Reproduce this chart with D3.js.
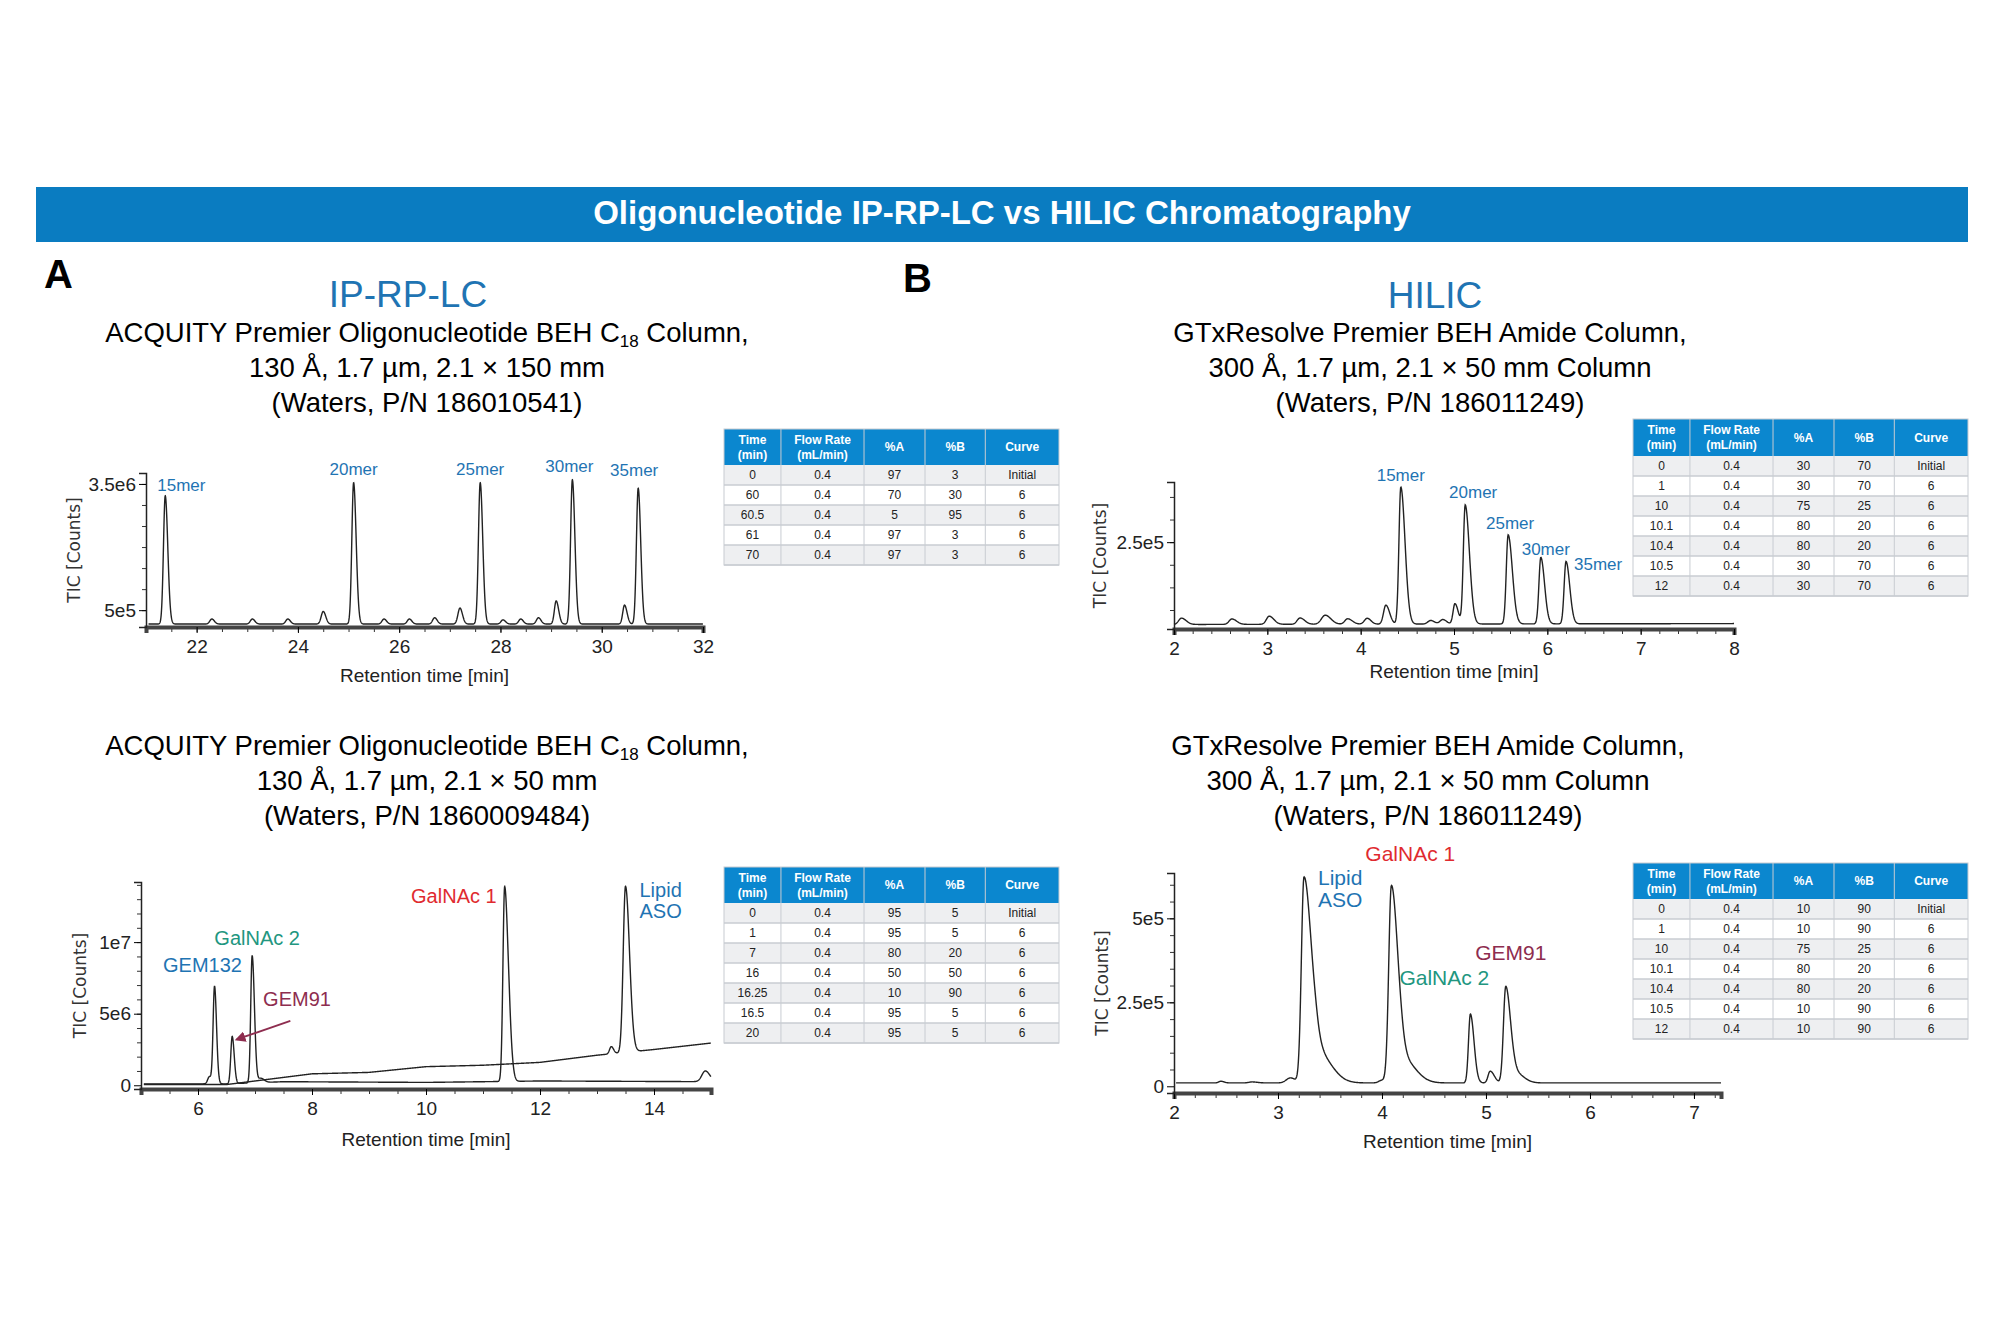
<!DOCTYPE html>
<html><head><meta charset="utf-8">
<script src="https://cdn.jsdelivr.net/npm/d3@7"></script>
<style>body{margin:0;background:#fff}svg{display:block}</style>
</head><body>
<svg id="c" width="2000" height="1333"></svg>
<script>
// ---------- data ----------
const tableHeader = ["Time\n(min)", "Flow Rate\n(mL/min)", "%A", "%B", "Curve"];
const tableA1 = [["0","0.4","97","3","Initial"],["60","0.4","70","30","6"],["60.5","0.4","5","95","6"],["61","0.4","97","3","6"],["70","0.4","97","3","6"]];
const tableB1 = [["0","0.4","30","70","Initial"],["1","0.4","30","70","6"],["10","0.4","75","25","6"],["10.1","0.4","80","20","6"],["10.4","0.4","80","20","6"],["10.5","0.4","30","70","6"],["12","0.4","30","70","6"]];
const tableA2 = [["0","0.4","95","5","Initial"],["1","0.4","95","5","6"],["7","0.4","80","20","6"],["16","0.4","50","50","6"],["16.25","0.4","10","90","6"],["16.5","0.4","95","5","6"],["20","0.4","95","5","6"]];
const tableB2 = [["0","0.4","10","90","Initial"],["1","0.4","10","90","6"],["10","0.4","75","25","6"],["10.1","0.4","80","20","6"],["10.4","0.4","80","20","6"],["10.5","0.4","10","90","6"],["12","0.4","10","90","6"]];

// peaks: [retention time, height, sigma left, sigma right]
const peaksA1 = [[21.38,3.05e6,0.035,0.05],[22.3,0.12e6,0.04,0.05],[23.1,0.12e6,0.04,0.05],[23.8,0.12e6,0.04,0.05],[24.5,0.3e6,0.04,0.05],[25.1,3.36e6,0.035,0.05],[25.7,0.12e6,0.04,0.05],[26.2,0.12e6,0.04,0.05],[26.7,0.15e6,0.04,0.05],[27.2,0.38e6,0.04,0.05],[27.6,3.36e6,0.035,0.05],[28.05,0.1e6,0.04,0.05],[28.4,0.12e6,0.04,0.05],[28.75,0.15e6,0.04,0.05],[29.1,0.55e6,0.035,0.05],[29.42,3.43e6,0.035,0.05],[30.45,0.45e6,0.035,0.05],[30.72,3.23e6,0.035,0.05]];
const baseA1 = [[21,0.17e6],[32,0.17e6]];
const peaksB1 = [[2.08,0.14e5,0.03,0.05],[2.62,0.12e5,0.03,0.05],[3.02,0.18e5,0.03,0.05],[3.35,0.14e5,0.03,0.05],[3.62,0.2e5,0.04,0.06],[3.86,0.12e5,0.03,0.05],[4.07,0.13e5,0.03,0.04],[4.27,0.42e5,0.025,0.04],[4.43,3.03e5,0.02,0.045],[4.75,0.08e5,0.03,0.04],[4.88,0.1e5,0.03,0.04],[5.01,0.45e5,0.02,0.035],[5.12,2.63e5,0.02,0.045],[5.58,1.97e5,0.02,0.045],[5.93,1.47e5,0.02,0.04],[6.2,1.38e5,0.02,0.04]];
const baseB1 = [[2,0.68e5],[8,0.7e5]];
const peaksA2a = [[6.2,0.5e6,0.03,0.04],[6.29,6.8e6,0.025,0.035],[6.6,3.3e6,0.025,0.035],[6.95,8.9e6,0.025,0.04],[7.1,0.3e6,0.04,0.06],[11.38,13.6e6,0.03,0.06],[11.47,1.2e6,0.03,0.05],[14.9,0.75e6,0.06,0.08]];
const baseA2a = [[5,0.1e6],[6.5,0.1e6],[7.5,0.25e6],[10,0.2e6],[12,0.3e6],[15,0.25e6]];
const peaksA2b = [[13.25,0.5e6,0.03,0.04],[13.5,11.6e6,0.04,0.07]];
const baseA2b = [[5,0.05e6],[6.5,0.05e6],[7,0.3e6],[8,0.8e6],[9,0.9e6],[10,1.3e6],[11,1.4e6],[12,1.6e6],[13,2.1e6],[14,2.5e6],[15,2.95e6]];
const peaksB2 = [[2.45,0.05e5,0.02,0.03],[2.75,0.03e5,0.03,0.05],[3.12,0.15e5,0.04,0.05],[3.25,6.1e5,0.025,0.07],[3.38,0.9e5,0.05,0.13],[4.0,0.08e5,0.03,0.05],[4.09,5.8e5,0.025,0.06],[4.2,0.7e5,0.05,0.12],[4.85,2.05e5,0.018,0.035],[5.04,0.35e5,0.02,0.04],[5.19,2.85e5,0.022,0.045],[5.28,0.3e5,0.04,0.08]];
const baseB2 = [[2,0.1e5],[7.3,0.1e5]];

const titleText = "Oligonucleotide IP-RP-LC vs HILIC Chromatography";
const xTicksA1 = [22,24,26,28,30,32], yTicksA1 = [5e5,3.5e6], yTickLabA1 = ["5e5","3.5e6"];
const xTicksB1 = [2,3,4,5,6,7,8], yTicksB1 = [2.5e5], yTickLabB1 = ["2.5e5"];
const xTicksA2 = [6,8,10,12,14], yTicksA2 = [0,5e6,1e7], yTickLabA2 = ["0","5e6","1e7"];
const xTicksB2 = [2,3,4,5,6,7], yTicksB2 = [0,2.5e5,5e5], yTickLabB2 = ["0","2.5e5","5e5"];

// ---------- drawing ----------
const svg = d3.select("#c");
const BLUE = "#1f74b3", RED = "#e02a2f", TEAL = "#22967f", MAROON = "#8e2d4f", HEAD = "#0b87cf";

svg.append("rect").attr("x",36).attr("y",187).attr("width",1932).attr("height",55).attr("fill","#0a7cc1");
svg.append("text").attr("x",1002).attr("y",224).attr("text-anchor","middle").attr("fill","#fff")
  .attr("font-family","Liberation Sans, Arial").attr("font-weight","bold").attr("font-size",33).text(titleText);
svg.append("text").attr("x",44).attr("y",288).attr("font-family","Liberation Sans").attr("font-weight","bold").attr("font-size",40).text("A");
svg.append("text").attr("x",903).attr("y",292).attr("font-family","Liberation Sans").attr("font-weight","bold").attr("font-size",40).text("B");

function heading(bx, by, big, cx, lines) {
  if (big) svg.append("text").attr("x",bx).attr("y",by).attr("text-anchor","middle").attr("fill",BLUE)
    .attr("font-family","Liberation Sans").attr("font-size",37).text(big);
  lines.forEach((l,i)=>{
    const t = svg.append("text").attr("x",cx).attr("y",l.y).attr("text-anchor","middle")
      .attr("font-family","Liberation Sans").attr("font-size",27.5);
    if (Array.isArray(l.t)) {
      t.append("tspan").text(l.t[0]);
      t.append("tspan").attr("font-size",17).attr("dy",5).text(l.t[1]);
      t.append("tspan").attr("dy",-5).text(l.t[2]);
    } else t.text(l.t);
  });
}
heading(408, 307, "IP-RP-LC", 427, [{y:342,t:["ACQUITY Premier Oligonucleotide BEH C","18"," Column,"]},{y:377,t:"130 Å, 1.7 µm, 2.1 × 150 mm"},{y:412,t:"(Waters, P/N 186010541)"}]);
heading(1435, 308, "HILIC", 1430, [{y:342,t:"GTxResolve Premier BEH Amide Column,"},{y:377,t:"300 Å, 1.7 µm, 2.1 × 50 mm Column"},{y:412,t:"(Waters, P/N 186011249)"}]);
heading(0, 0, null, 427, [{y:755,t:["ACQUITY Premier Oligonucleotide BEH C","18"," Column,"]},{y:790,t:"130 Å, 1.7 µm, 2.1 × 50 mm"},{y:825,t:"(Waters, P/N 1860009484)"}]);
heading(0, 0, null, 1428, [{y:755,t:"GTxResolve Premier BEH Amide Column,"},{y:790,t:"300 Å, 1.7 µm, 2.1 × 50 mm Column"},{y:825,t:"(Waters, P/N 186011249)"}]);

function table(x, y, w, headH, rowH, rows) {
  const colW = [0.17,0.248,0.182,0.18,0.22].map(f=>f*w);
  const xs = d3.cumsum([0,...colW]);
  const g = svg.append("g").attr("font-family","Liberation Sans Narrow, Arial Narrow, sans-serif").attr("font-size",12);
  g.append("rect").attr("x",x).attr("y",y).attr("width",w).attr("height",headH).attr("fill",HEAD);
  tableHeader.forEach((h,i)=>{
    const parts = h.split("\n");
    parts.forEach((p,j)=>g.append("text").attr("x",x+xs[i]+colW[i]/2)
      .attr("y",y+headH/2+4+(parts.length>1?(j-0.5)*15:0)).attr("text-anchor","middle")
      .attr("fill","#fff").attr("font-weight","bold").text(p));
    if(i>0) g.append("line").attr("x1",x+xs[i]).attr("x2",x+xs[i]).attr("y1",y).attr("y2",y+headH+rowH*rows.length).attr("stroke","#c8ccd2").attr("stroke-width",1);
  });
  rows.forEach((r,k)=>{
    const ry = y+headH+k*rowH;
    g.insert("rect",":first-child").attr("x",x).attr("y",ry).attr("width",w).attr("height",rowH).attr("fill",k%2?"#fff":"#eeeff1");
    g.append("line").attr("x1",x).attr("x2",x+w).attr("y1",ry+rowH).attr("y2",ry+rowH).attr("stroke","#c8ccd2").attr("stroke-width",1.5);
    r.forEach((c,i)=>g.append("text").attr("x",x+xs[i]+colW[i]/2).attr("y",ry+rowH/2+4).attr("text-anchor","middle").attr("fill","#222").text(c));
  });
  g.append("rect").attr("x",x).attr("y",y).attr("width",w).attr("height",headH+rowH*rows.length).attr("fill","none").attr("stroke","#c8ccd2");
}
table(724,429,335,36,20,tableA1);
table(1633,419,335,37,20,tableB1);
table(724,867,335,36,20,tableA2);
table(1633,863,335,36,20,tableB2);

function trace(peaks, base, x0, x1) {
  const bs = d3.scaleLinear().domain(base.map(b=>b[0])).range(base.map(b=>b[1]));
  const pts = [];
  for (let t = x0; t <= x1 + 1e-9; t += 0.004) {
    let v = bs(t);
    for (const [rt,h,sl,sr] of peaks) { const s = t<rt?sl:sr; v += h*Math.exp(-0.5*((t-rt)/s)**2); }
    pts.push([t,v]);
  }
  return pts;
}

function panel(cfg) {
  const x = d3.scaleLinear().domain(cfg.xd).range(cfg.xr);
  const y = d3.scaleLinear().domain(cfg.yd).range(cfg.yr);
  const g = svg.append("g").attr("font-family","Liberation Sans Narrow, Arial Narrow, sans-serif");
  const ax = d3.axisBottom(x).tickValues(cfg.xt).tickSize(6).tickFormat(d3.format("d"));
  const minorX = d3.range(cfg.xd[0], cfg.xd[1]+1e-9, cfg.xm);
  g.append("g").attr("transform",`translate(0,${cfg.yr[0]})`).call(d3.axisBottom(x).tickValues(minorX).tickSize(5).tickFormat(""))
    .call(s=>s.select(".domain").remove()).selectAll("line").attr("stroke","#333");
  const gx = g.append("g").attr("transform",`translate(0,${cfg.yr[0]})`).call(ax);
  gx.select(".domain").attr("stroke","#444").attr("stroke-width",4);
  gx.selectAll("text").attr("font-size",19).attr("fill","#222").attr("dy","0.9em");
  const minorY = d3.range(cfg.ymStart, cfg.yd[1], cfg.ym);
  g.append("g").attr("transform",`translate(${cfg.xr[0]},0)`).call(d3.axisLeft(y).tickValues(minorY).tickSize(4).tickFormat(""))
    .call(s=>s.select(".domain").remove()).selectAll("line").attr("stroke","#333");
  const gy = g.append("g").attr("transform",`translate(${cfg.xr[0]},0)`).call(d3.axisLeft(y).tickValues(cfg.yt).tickSize(7).tickFormat((d,i)=>cfg.ytl[i]));
  gy.select(".domain").attr("stroke","#222").attr("stroke-width",1.5);
  gy.selectAll("text").attr("font-size",19).attr("fill","#222");
  const line = d3.line().x(d=>x(d[0])).y(d=>y(d[1]));
  cfg.traces.forEach(tr=>g.append("path").datum(tr).attr("d",line).attr("fill","none").attr("stroke","#222").attr("stroke-width",1.4));
  g.append("text").attr("x",(cfg.xr[0]+cfg.xr[1])/2).attr("y",cfg.titleY).attr("text-anchor","middle").attr("font-size",19).attr("fill","#222").text("Retention time [min]");
  g.append("text").attr("transform",`translate(${cfg.ylabX},${(cfg.yr[0]+cfg.yr[1])/2}) rotate(-90)`).attr("text-anchor","middle")
    .attr("font-family","DejaVu Sans").attr("font-size",17).attr("fill","#333").text("TIC [Counts]");
  cfg.labels.forEach(l=>{
    const t = g.append("text").attr("x",x(l.t)+(l.dx||0)).attr("y",y(l.v)+(l.dy||0)).attr("text-anchor",l.a||"middle")
      .attr("fill",l.c).attr("font-family",l.f||"Liberation Sans Narrow, Arial Narrow, sans-serif").attr("font-size",l.s);
    l.text.split("\n").forEach((p,i)=>t.append("tspan").attr("x",x(l.t)+(l.dx||0)).attr("dy",i?l.s*1.05:0).text(p));
  });
  return {x,y,g};
}

panel({xd:[21,32], xr:[146,703], yd:[0.1e6,3.76e6], yr:[627,473], xt:xTicksA1, xm:0.5, yt:yTicksA1, ytl:yTickLabA1, ym:0.5e6, ymStart:0.5e6,
  traces:[trace(peaksA1,baseA1,21.05,32)], titleY:682, ylabX:80,
  labels:[{t:21.38,v:3.2e6,dx:-8,dy:-6,a:"start",text:"15mer",c:BLUE,s:17},{t:25.1,v:3.53e6,dy:-8,text:"20mer",c:BLUE,s:17},
          {t:27.6,v:3.53e6,dy:-8,text:"25mer",c:BLUE,s:17},{t:29.42,v:3.6e6,dx:-3,dy:-8,text:"30mer",c:BLUE,s:17},{t:30.72,v:3.4e6,dx:-4,dy:-12,text:"35mer",c:BLUE,s:17}]});

panel({xd:[2,8], xr:[1174,1734], yd:[0.58e5,3.83e5], yr:[629,482], xt:xTicksB1, xm:0.2, yt:yTicksB1, ytl:yTickLabB1, ym:0.5e5, ymStart:1e5,
  traces:[trace(peaksB1,baseB1,2,8)], titleY:678, ylabX:1106,
  labels:[{t:4.43,v:3.71e5,dy:-6,text:"15mer",c:BLUE,s:17},{t:5.12,v:3.31e5,dx:8,dy:-8,text:"20mer",c:BLUE,s:17},
          {t:5.58,v:2.65e5,dx:2,dy:-6,text:"25mer",c:BLUE,s:17},{t:5.93,v:2.15e5,dx:5,dy:-3,text:"30mer",c:BLUE,s:17},{t:6.2,v:2.06e5,dx:8,dy:8,a:"start",text:"35mer",c:BLUE,s:17}]});

const pA2 = panel({xd:[5,15], xr:[141,711], yd:[-0.026e7,1.42e7], yr:[1089,882], xt:xTicksA2, xm:0.5, yt:yTicksA2, ytl:yTickLabA2, ym:1e6, ymStart:1e6,
  traces:[trace(peaksA2a,baseA2a,5.05,15), trace(peaksA2b,baseA2b,5.05,15)], titleY:1146, ylabX:86,
  labels:[{t:11.38,v:14e6,dx:-8,dy:18,a:"end",text:"GalNAc 1",c:RED,s:20,f:"Liberation Sans"},
          {t:13.5,v:14e6,dx:14,dy:12,a:"start",text:"Lipid\nASO",c:BLUE,s:20,f:"Liberation Sans"},
          {t:6.95,v:11.2e6,dx:5,dy:20,text:"GalNAc 2",c:TEAL,s:20,f:"Liberation Sans"},
          {t:6.29,v:7.3e6,dx:-12,dy:-9,text:"GEM132",c:BLUE,s:20,f:"Liberation Sans"},
          {t:7.3,v:6.1e6,dx:-9,dy:8,a:"start",text:"GEM91",c:MAROON,s:20,f:"Liberation Sans"}]});
// arrow for GEM91
(function(){
  const {x,y,g} = pA2;
  const defs = svg.append("defs");
  defs.append("marker").attr("id","ah").attr("viewBox","0 0 10 10").attr("refX",8).attr("refY",5).attr("markerWidth",6).attr("markerHeight",6).attr("orient","auto")
    .append("path").attr("d","M0,0L10,5L0,10z").attr("fill",MAROON);
  g.append("line").attr("x1",x(7.62)).attr("y1",y(4.5e6)).attr("x2",x(6.68)).attr("y2",y(3.2e6)).attr("stroke",MAROON).attr("stroke-width",1.8).attr("marker-end","url(#ah)");
})();

panel({xd:[2,7.26], xr:[1174,1721], yd:[-0.2e5,6.35e5], yr:[1093,873], xt:xTicksB2, xm:0.2, yt:yTicksB2, ytl:yTickLabB2, ym:0.5e5, ymStart:0.5e5,
  traces:[trace(peaksB2,baseB2,2.02,7.26)], titleY:1148, ylabX:1108,
  labels:[{t:3.25,v:6.23e5,dx:14,dy:8,a:"start",text:"Lipid\nASO",c:BLUE,s:21,f:"Liberation Sans"},
          {t:4.09,v:5.97e5,dx:-26,dy:-25,a:"start",text:"GalNAc 1",c:RED,s:21,f:"Liberation Sans"},
          {t:5.19,v:3.0e5,dx:5,dy:-26,text:"GEM91",c:MAROON,s:21,f:"Liberation Sans"},
          {t:4.85,v:2.17e5,dx:-26,dy:-28,text:"GalNAc 2",c:TEAL,s:21,f:"Liberation Sans"}]});
</script>
</body></html>
